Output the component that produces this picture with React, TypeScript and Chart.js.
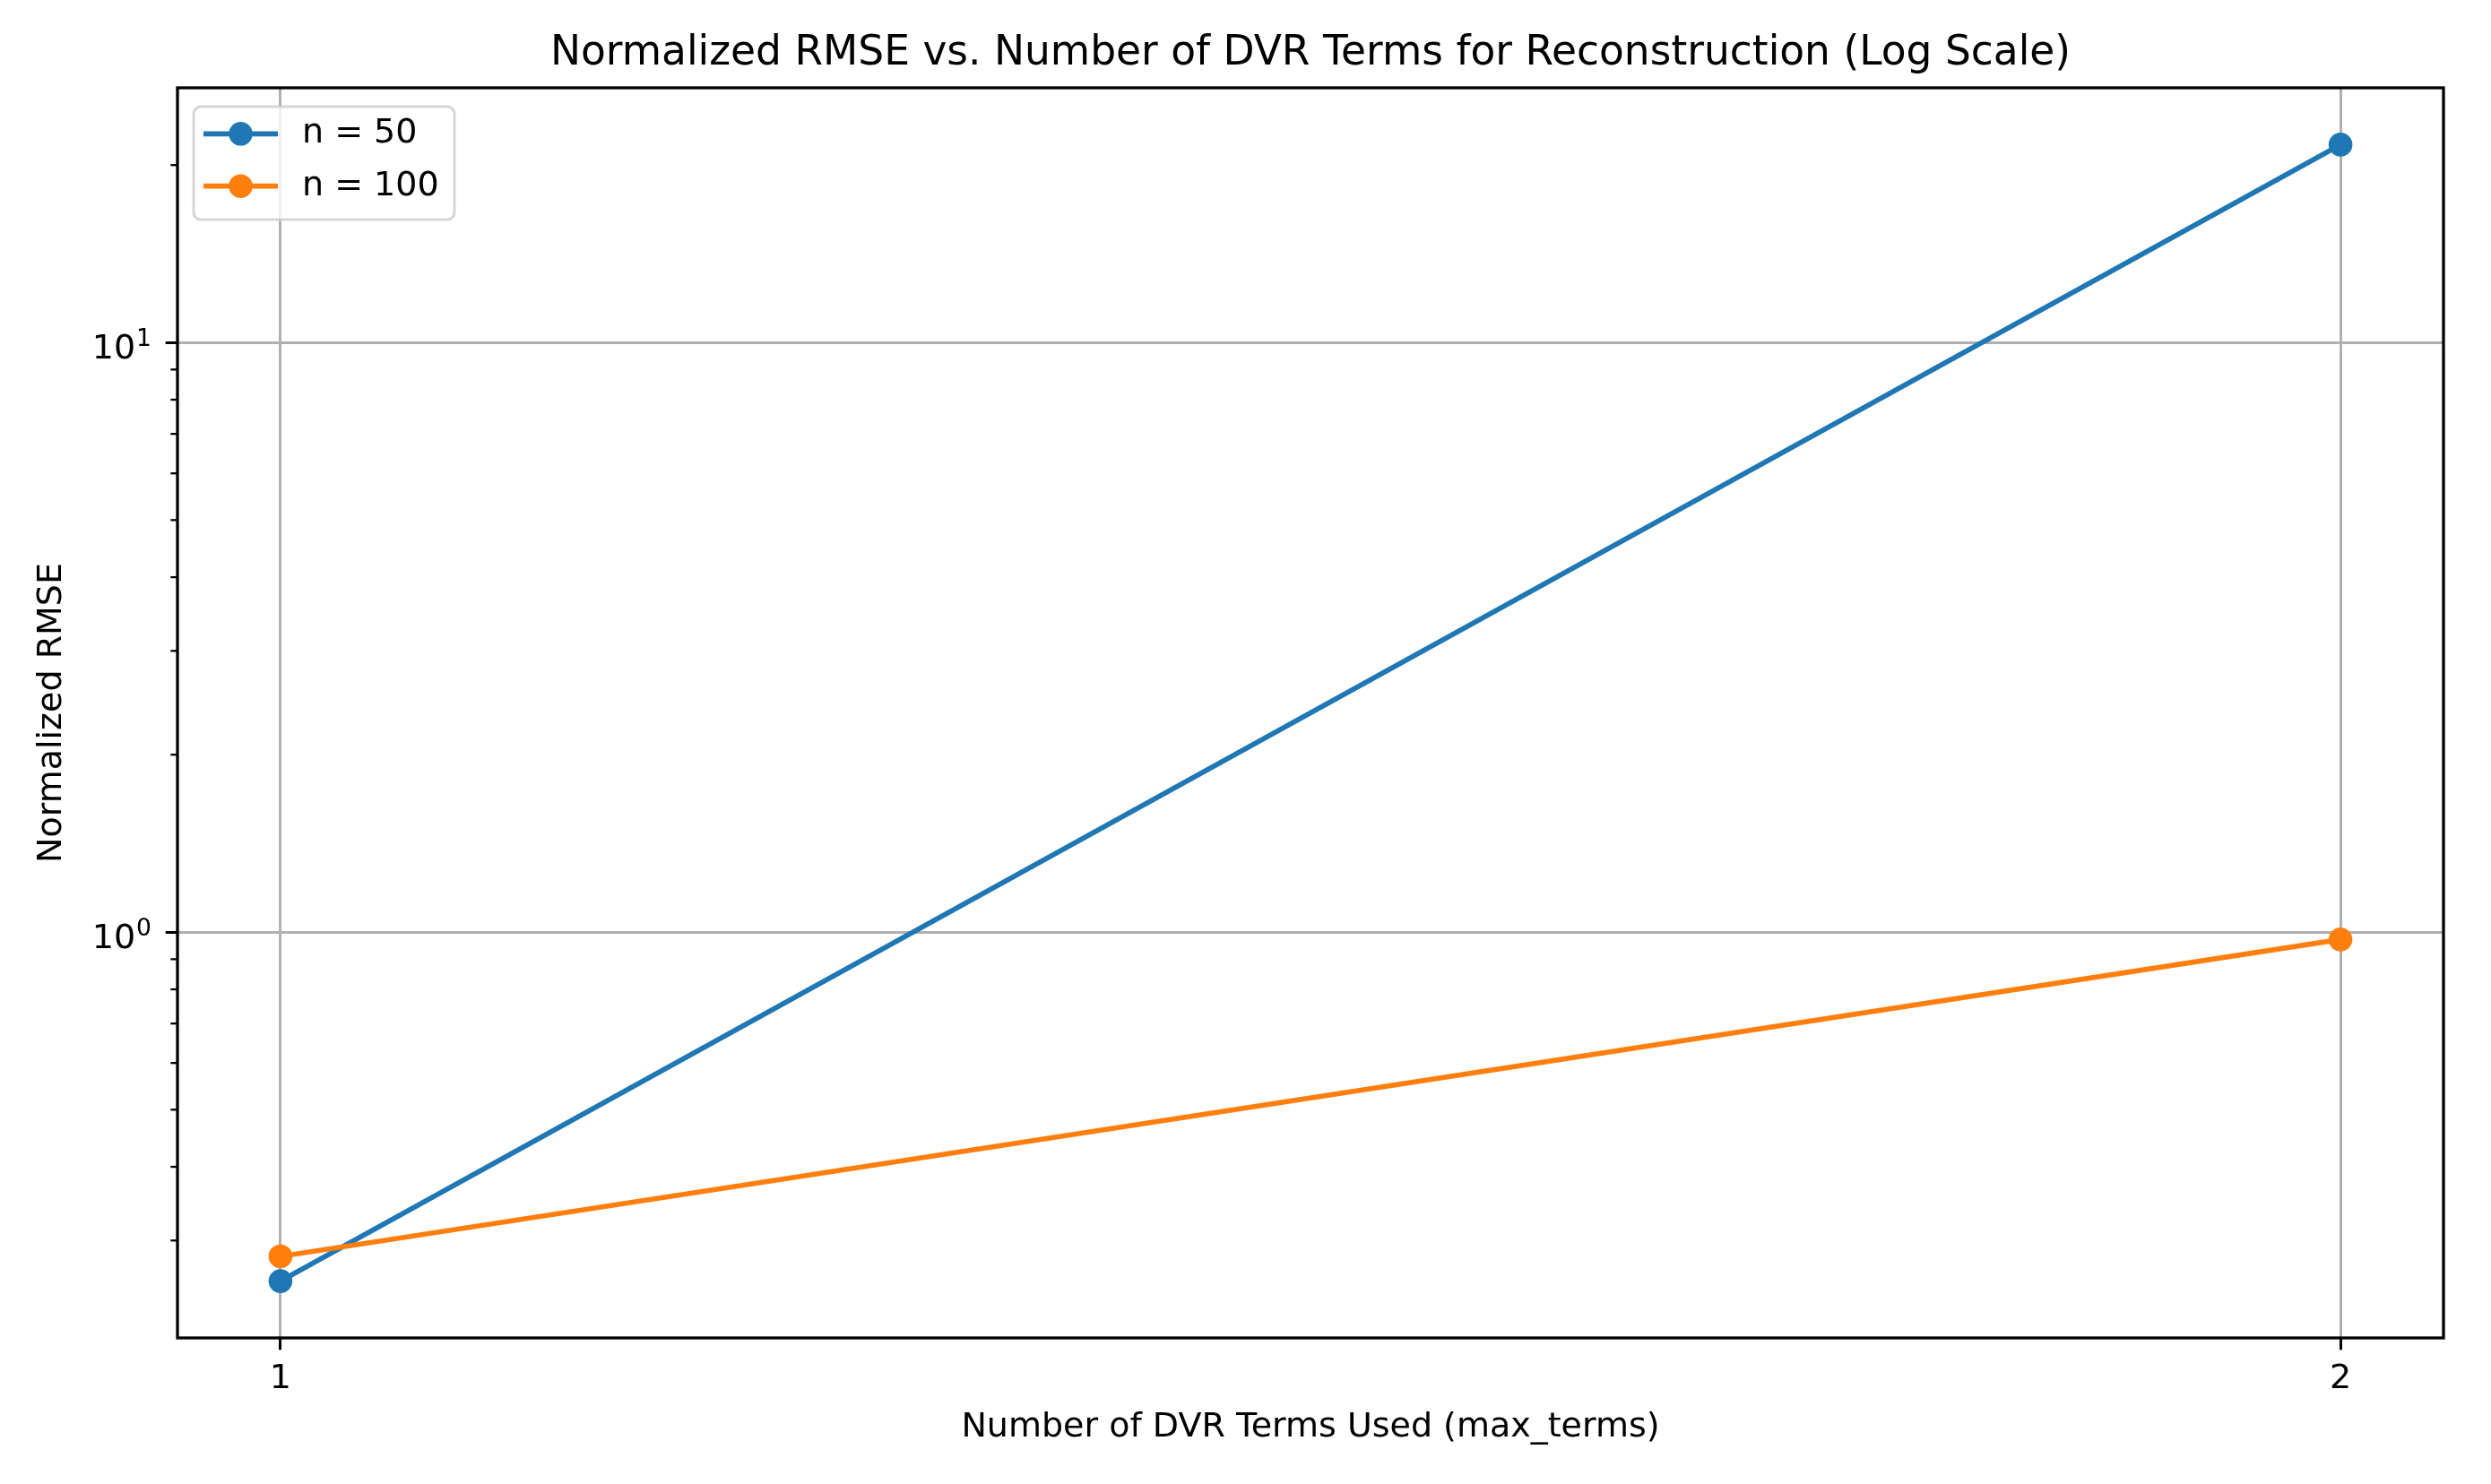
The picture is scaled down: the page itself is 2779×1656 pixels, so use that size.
import React, { useEffect, useRef } from 'react';
import { Chart, registerables } from 'chart.js';

Chart.register(...registerables);

// ---- data ----
const xTerms = [1, 2];
const seriesLabels = ['n = 50', 'n = 100'];
const rmseN50 = [0.256, 21.66];
const rmseN100 = [0.282, 0.972];
const xTickValues = [1, 2];
const seriesColors = ['#1f77b4', '#ff7f0e'];
const titleText = 'Normalized RMSE vs. Number of DVR Terms for Reconstruction (Log Scale)';
const xAxisLabel = 'Number of DVR Terms Used (max_terms)';
const yAxisLabel = 'Normalized RMSE';

const W = 2779;
const H = 1656;
const FONT = "'DejaVu Sans', sans-serif";

// matplotlib-like 5% margins
const xLo = Math.min(...xTerms);
const xHi = Math.max(...xTerms);
const xMin = xLo - 0.05 * (xHi - xLo);
const xMax = xHi + 0.05 * (xHi - xLo);
const allLogs = [...rmseN50, ...rmseN100].map((v) => Math.log10(v));
const lLo = Math.min(...allLogs);
const lHi = Math.max(...allLogs);
const yMin = Math.pow(10, lLo - 0.05 * (lHi - lLo));
const yMax = Math.pow(10, lHi + 0.05 * (lHi - lLo));

const isMajor = (v: number) => {
  const l = Math.log10(v);
  return Math.abs(l - Math.round(l)) < 1e-9;
};

const decorPlugin = {
  id: 'decor',
  afterDatasetsDraw(chart: any) {
    const ctx = chart.ctx as CanvasRenderingContext2D;
    const { left, right, top, bottom } = chart.chartArea;
    const ys = chart.scales.y;
    ctx.save();
    // title centred over the axes
    ctx.fillStyle = '#000';
    ctx.font = `45.5px ${FONT}`;
    ctx.textAlign = 'center';
    ctx.textBaseline = 'middle';
    ctx.fillText(titleText, (left + right) / 2, 60);
    // minor ticks
    ctx.strokeStyle = '#000';
    ctx.lineWidth = 2.3;
    ys.ticks.forEach((t: any) => {
      if (!isMajor(t.value)) {
        const py = ys.getPixelForValue(t.value);
        ctx.beginPath();
        ctx.moveTo(left - 7.6, py);
        ctx.lineTo(left, py);
        ctx.stroke();
      }
    });
    // y tick labels 10^k
    ctx.fillStyle = '#000';
    ctx.textBaseline = 'alphabetic';
    ctx.textAlign = 'left';
    ys.ticks.forEach((t: any) => {
      if (isMajor(t.value)) {
        const exp = String(Math.round(Math.log10(t.value)));
        const py = ys.getPixelForValue(t.value);
        ctx.font = `38px ${FONT}`;
        const w1 = ctx.measureText('10').width;
        ctx.font = `26.6px ${FONT}`;
        const w2 = ctx.measureText(exp).width;
        const x0 = 168 - w1 - w2;
        ctx.font = `38px ${FONT}`;
        ctx.fillText('10', x0, py + 18);
        ctx.font = `26.6px ${FONT}`;
        ctx.fillText(exp, x0 + w1 + 1, py + 4);
      }
    });
    // spines
    ctx.strokeStyle = '#000';
    ctx.lineWidth = 3.3;
    ctx.strokeRect(left, top, right - left, bottom - top);
    // legend
    const bx = 216, by = 119, bw = 291, bh = 126, r = 8;
    ctx.beginPath();
    ctx.moveTo(bx + r, by);
    ctx.lineTo(bx + bw - r, by);
    ctx.arcTo(bx + bw, by, bx + bw, by + r, r);
    ctx.lineTo(bx + bw, by + bh - r);
    ctx.arcTo(bx + bw, by + bh, bx + bw - r, by + bh, r);
    ctx.lineTo(bx + r, by + bh);
    ctx.arcTo(bx, by + bh, bx, by + bh - r, r);
    ctx.lineTo(bx, by + r);
    ctx.arcTo(bx, by, bx + r, by, r);
    ctx.closePath();
    ctx.fillStyle = 'rgba(255,255,255,0.8)';
    ctx.fill();
    ctx.strokeStyle = 'rgba(204,204,204,0.8)';
    ctx.lineWidth = 3;
    ctx.stroke();
    const rows = [149.3, 207.7];
    chart.data.datasets.forEach((ds: any, i: number) => {
      const ry = rows[i];
      ctx.strokeStyle = ds.borderColor;
      ctx.lineWidth = 5.7;
      ctx.beginPath();
      ctx.moveTo(227, ry);
      ctx.lineTo(310, ry);
      ctx.stroke();
      ctx.fillStyle = ds.borderColor;
      ctx.beginPath();
      ctx.arc(268.5, ry, 13.3, 0, Math.PI * 2);
      ctx.fill();
      ctx.fillStyle = '#000';
      ctx.font = `38px ${FONT}`;
      ctx.textBaseline = 'middle';
      ctx.textAlign = 'left';
      ctx.fillText(ds.label, 337, ry);
    });
    ctx.restore();
  },
};

export default function App() {
  const ref = useRef<HTMLCanvasElement | null>(null);
  useEffect(() => {
    if (!ref.current) return;
    const mk = (label: string, vals: number[], color: string, order: number) => ({
      label,
      data: xTerms.map((x, i) => ({ x, y: vals[i] })),
      borderColor: color,
      backgroundColor: color,
      pointBackgroundColor: color,
      pointBorderColor: color,
      borderWidth: 5.7,
      pointRadius: 11.4,
      pointBorderWidth: 3.8,
      pointHoverRadius: 11.4,
      order,
    });
    const chart = new Chart(ref.current, {
      type: 'line',
      data: {
        datasets: [
          mk(seriesLabels[0], rmseN50, seriesColors[0], 1),
          mk(seriesLabels[1], rmseN100, seriesColors[1], 0),
        ],
      },
      options: {
        responsive: false,
        animation: false,
        devicePixelRatio: 1,
        layout: { padding: { left: 0, right: 53, top: 98, bottom: 0 } },
        plugins: {
          legend: { display: false },
          tooltip: { enabled: false },
          title: { display: false },
        },
        scales: {
          x: {
            type: 'linear',
            min: xMin,
            max: xMax,
            afterBuildTicks: (s: any) => {
              s.ticks = xTickValues.map((v) => ({ value: v }));
            },
            afterFit: (s: any) => {
              s.height = 163;
            },
            grid: {
              color: '#b0b0b0',
              lineWidth: 3,
              tickColor: '#000',
              tickWidth: 3,
              tickLength: 13.3,
            },
            border: { display: false },
            ticks: {
              color: '#000',
              font: { family: FONT, size: 38 },
              padding: 10,
              maxRotation: 0,
              callback: (v: any) => String(v),
            },
            title: {
              display: true,
              text: xAxisLabel,
              color: '#000',
              font: { family: FONT, size: 38 },
              padding: { top: 0, bottom: 40 },
            },
          },
          y: {
            type: 'logarithmic',
            min: yMin,
            max: yMax,
            afterBuildTicks: (s: any) => {
              const ticks: any[] = [];
              for (let e = Math.floor(Math.log10(yMin)); e <= Math.ceil(Math.log10(yMax)); e++) {
                for (let m = 1; m <= 9; m++) {
                  const v = m * Math.pow(10, e);
                  if (v >= yMin && v <= yMax) ticks.push({ value: v, major: m === 1 });
                }
              }
              s.ticks = ticks;
            },
            afterFit: (s: any) => {
              s.width = 198;
            },
            grid: {
              color: (c: any) => (c.tick && isMajor(c.tick.value) ? '#b0b0b0' : 'rgba(0,0,0,0)'),
              lineWidth: 3,
              tickColor: (c: any) => (c.tick && isMajor(c.tick.value) ? '#000' : 'rgba(0,0,0,0)'),
              tickWidth: 3,
              tickLength: 13.3,
            },
            border: { display: false },
            ticks: { display: false },
            title: {
              display: true,
              text: yAxisLabel,
              color: '#000',
              font: { family: FONT, size: 38 },
              padding: { top: 35, bottom: 0 },
            },
          },
        },
      } as any,
      plugins: [decorPlugin],
    });
    return () => chart.destroy();
  }, []);
  return (
    <div style={{ position: 'absolute', left: 0, top: 0, width: W, height: H, background: '#fff' }}>
      <canvas ref={ref} width={W} height={H} style={{ width: W, height: H, display: 'block' }} />
    </div>
  );
}
